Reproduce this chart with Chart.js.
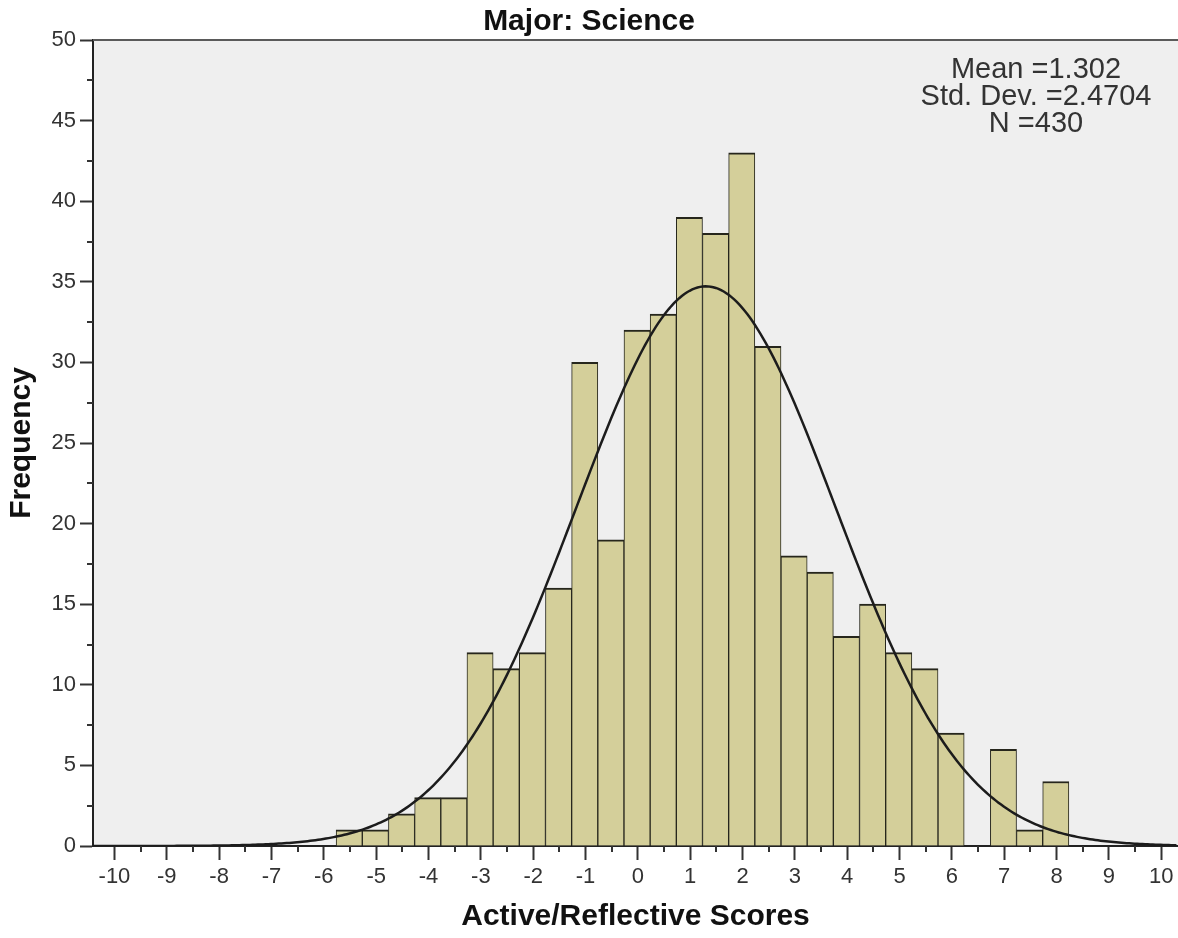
<!DOCTYPE html>
<html>
<head>
<meta charset="utf-8">
<script src="https://cdn.jsdelivr.net/npm/chart.js@4"></script>
<style>
html,body{margin:0;padding:0;background:#fff;}
#wrap{width:1178px;height:938px;}
</style>
</head>
<body>
<div id="wrap"><canvas id="c" width="1178" height="938"></canvas></div>
<script>
// ---- data ----
const binCenters = [-5.515,-5.015,-4.515,-4.015,-3.515,-3.015,-2.515,-2.015,-1.515,-1.015,-0.515,-0.015,0.485,0.985,1.485,1.985,2.485,2.985,3.485,3.985,4.485,4.985,5.485,5.985,6.485,6.985,7.485,7.985];
const frequencies = [1,1,2,3,3,12,11,12,16,30,19,32,33,39,38,43,31,18,17,13,15,12,11,7,0,6,1,4];
const xTickValues = [-10,-9,-8,-7,-6,-5,-4,-3,-2,-1,0,1,2,3,4,5,6,7,8,9,10];
const yTickValues = [0,5,10,15,20,25,30,35,40,45,50];
const statLines = ['Mean =1.302','Std. Dev. =2.4704','N =430'];
const meanValue = 1.302;
const stdDevValue = 2.4704;
const nValue = 430;
const binWidth = 0.5;
const xMin = -10.41, xMax = 10.32;

// fitted normal curve defined by the stated Mean / Std. Dev. / N
const curvePoints = [];
for (let x = xMin; x <= xMax + 1e-9; x += 0.05) {
  const z = (x - meanValue) / stdDevValue;
  curvePoints.push({x: x, y: nValue * binWidth * Math.exp(-0.5 * z * z) / (stdDevValue * Math.sqrt(2 * Math.PI))});
}

const FONT = '"Liberation Sans", Arial, sans-serif';

const decorPlugin = {
  id: 'decor',
  beforeDraw(chart) {
    const {ctx, chartArea: a} = chart;
    ctx.save();
    ctx.fillStyle = '#efefef';
    ctx.fillRect(a.left, a.top, a.right - a.left, a.bottom - a.top);
    ctx.restore();
  },
  afterDraw(chart) {
    const {ctx, chartArea: a} = chart;
    const xs = chart.scales.x, ys = chart.scales.y;
    ctx.save();
    // top frame line
    ctx.strokeStyle = '#5a5a5a';
    ctx.lineWidth = 2;
    ctx.beginPath();
    ctx.moveTo(a.left, a.top);
    ctx.lineTo(a.right, a.top);
    ctx.stroke();
    // minor ticks
    ctx.strokeStyle = '#333';
    ctx.lineWidth = 2;
    ctx.beginPath();
    for (let i = 0; i < xTickValues.length - 1; i++) {
      const px = Math.round(xs.getPixelForValue((xTickValues[i] + xTickValues[i + 1]) / 2));
      ctx.moveTo(px, a.bottom);
      ctx.lineTo(px, a.bottom + 6);
    }
    for (let i = 0; i < yTickValues.length - 1; i++) {
      const py = Math.round(ys.getPixelForValue((yTickValues[i] + yTickValues[i + 1]) / 2));
      ctx.moveTo(a.left, py);
      ctx.lineTo(a.left - 6, py);
    }
    ctx.stroke();
    // statistics box text
    ctx.fillStyle = '#333';
    ctx.font = '29px ' + FONT;
    ctx.textAlign = 'center';
    ctx.textBaseline = 'middle';
    const cx = 1036;
    statLines.forEach((t, i) => ctx.fillText(t, cx, 70 + i * 27));
    ctx.restore();
  }
};

new Chart(document.getElementById('c').getContext('2d'), {
  type: 'bar',
  data: {
    datasets: [
      {
        type: 'line',
        data: curvePoints,
        borderColor: '#1c1c1c',
        borderWidth: 2.5,
        pointRadius: 0,
        tension: 0,
        fill: false,
        order: 0
      },
      {
        type: 'bar',
        data: binCenters.map((x, i) => ({x: x, y: frequencies[i]})),
        backgroundColor: '#d4cf9a',
        borderColor: '#26261c',
        borderWidth: {top: 2, left: 1, right: 1, bottom: 0},
        borderSkipped: 'start',
        barPercentage: 1,
        categoryPercentage: 1,
        order: 1
      }
    ]
  },
  options: {
    responsive: false,
    animation: false,
    events: [],
    layout: {padding: 0},
    plugins: {
      legend: {display: false},
      tooltip: {enabled: false},
      title: {
        display: true,
        text: 'Major: Science',
        color: '#111',
        font: {family: FONT, size: 30, weight: 'bold'},
        padding: {top: 4, bottom: 0}
      }
    },
    scales: {
      x: {
        type: 'linear',
        min: xMin,
        max: xMax,
        offset: false,
        afterBuildTicks: s => { s.ticks = xTickValues.map(v => ({value: v})); },
        afterFit: s => { s.height = 92; },
        ticks: {
          autoSkip: false,
          maxRotation: 0,
          padding: 4,
          color: '#333',
          font: {family: FONT, size: 22},
          callback: v => String(v)
        },
        grid: {display: true, offset: false, drawOnChartArea: false, drawTicks: true, tickLength: 14, tickWidth: 2, tickColor: '#333'},
        border: {display: true, color: '#222', width: 2},
        title: {
          display: true,
          text: 'Active/Reflective Scores',
          color: '#111',
          font: {family: FONT, size: 30, weight: 'bold'},
          padding: {top: 0, bottom: 3}
        }
      },
      y: {
        type: 'linear',
        min: 0,
        max: 50,
        afterBuildTicks: s => { s.ticks = yTickValues.map(v => ({value: v})); },
        afterFit: s => { s.width = 93; },
        ticks: {
          padding: 4,
          color: '#333',
          font: {family: FONT, size: 22},
          callback: v => String(v)
        },
        grid: {display: true, drawOnChartArea: false, drawTicks: true, tickLength: 13, tickWidth: 2, tickColor: '#333'},
        border: {display: true, color: '#222', width: 2},
        title: {
          display: true,
          text: 'Frequency',
          color: '#111',
          font: {family: FONT, size: 30, weight: 'bold'},
          padding: {top: 4, bottom: 0}
        }
      }
    }
  },
  plugins: [decorPlugin]
});
</script>
</body>
</html>
